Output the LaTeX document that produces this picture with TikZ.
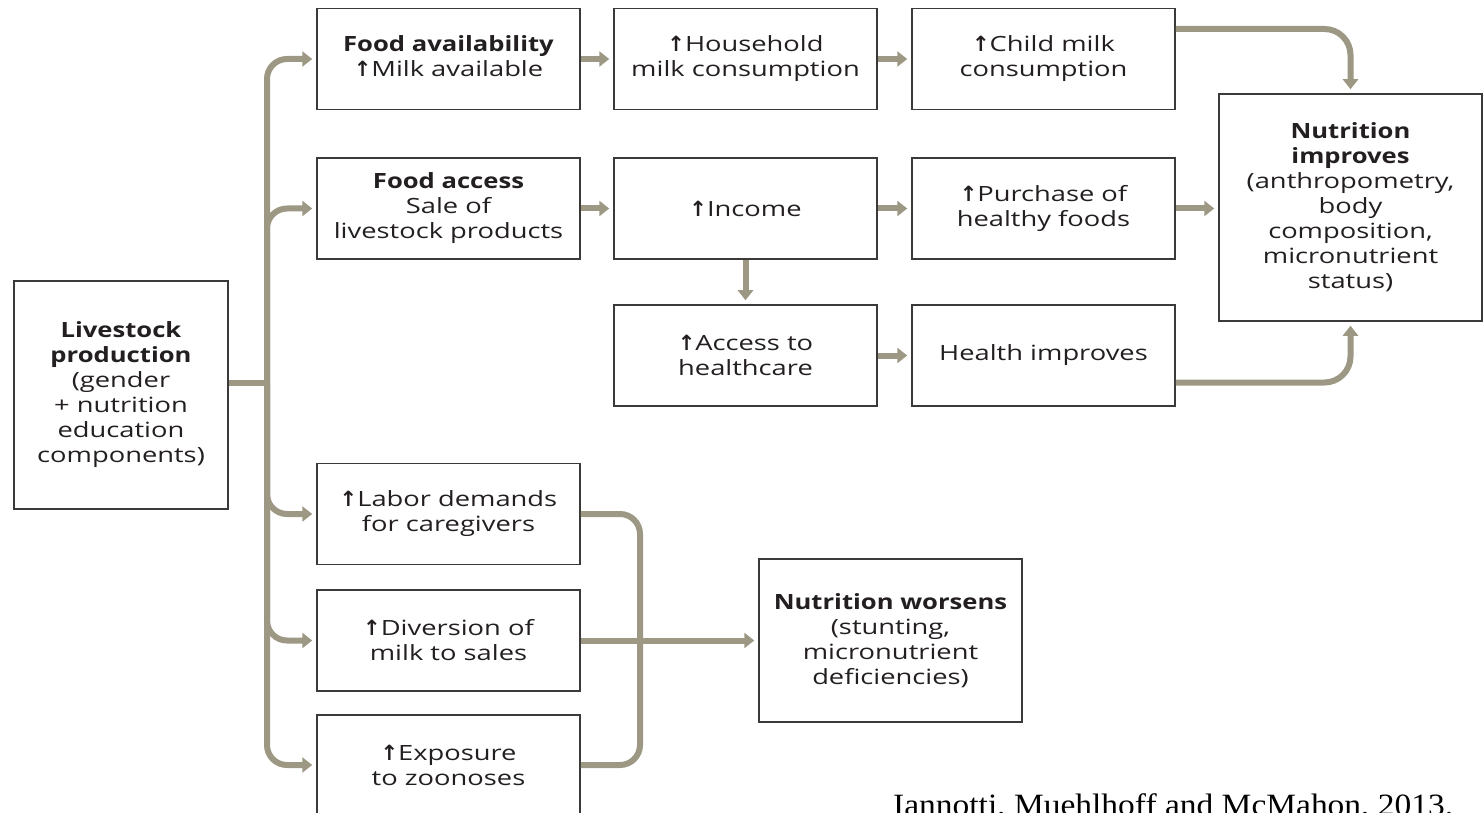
\documentclass[tikz,border=0pt]{standalone}
\usepackage{fontspec}
\setmainfont{Open Sans}[FakeStretch=1.3, BoldFeatures={FakeStretch=1.22}]
\newfontfamily\symfont{DejaVu Sans}
\newfontfamily\citefont{Liberation Serif}[FakeStretch=1.08]
\usetikzlibrary{arrows.meta,calc}
\definecolor{conncol}{RGB}{157,152,131}
\definecolor{boxcol}{RGB}{60,58,56}
\definecolor{txtcol}{RGB}{35,31,32}
\newcommand\upar{{\symfont\bfseries ↑}}
\begin{document}
\begin{tikzpicture}[x=1pt,y=-1pt,
  box/.style={draw=boxcol, line width=1.5pt, fill=white, align=center,
    inner sep=0pt, minimum width=263pt, minimum height=101pt,
    text=txtcol, font=\fontsize{21}{25}\selectfont},
  conn/.style={draw=conncol, line width=6pt},
  arr/.style={conn, -{Triangle[length=10pt,width=15pt]}, shorten >=4pt},
  branch/.style={arr, rounded corners=20pt}]
\useasboundingbox (0,0) rectangle (1484,813);
\clip (0,0) rectangle (1484,813);
\fill[white] (0,0) rectangle (1484,813);

% source box
\node[box, minimum width=214pt, minimum height=228pt] (live) at (121,395)
  {\textbf{Livestock}\\\textbf{production}\\(gender\\+ nutrition\\education\\components)};

% first column
\node[box] (avail) at (448.5,59) {\textbf{Food availability}\\\upar Milk available\vphantom{g}};
\node[box] (access) at (448.5,208.5) {\textbf{Food access}\\Sale of\\livestock products};
\node[box] (labor) at (448.5,514) {\upar Labor demands\\for caregivers};
\node[box] (divert) at (448.5,640.5) {\upar Diversion of\\milk to sales};
\node[box, minimum height=100pt] (expo) at (448.5,765) {\upar Exposure\\to zoonoses};

% second column
\node[box] (house) at (745.5,59) {\upar Household\\milk consumption};
\node[box] (income) at (745.5,208.5) {\upar Income};
\node[box] (care) at (745.5,355.5) {\upar Access to\\healthcare};

% third column
\node[box] (child) at (1043.5,59) {\upar Child milk\\consumption};
\node[box] (purch) at (1043.5,208.5) {\upar Purchase of\\healthy foods};
\node[box] (health) at (1043.5,355.5) {Health improves};

% outcomes
\node[box, minimum height=227pt] (better) at (1350.5,207.5)
  {\textbf{Nutrition}\\\textbf{improves}\\(anthropometry,\\body\\composition,\\micronutrient\\status)};
\node[box, minimum height=163pt] (worse) at (890.5,640.5)
  {\textbf{Nutrition worsens}\\(stunting,\\micronutrient\\deficiencies)};

% trunk from the source box and its branches
\coordinate (hub) at (267,383);
\draw[conn] ([yshift=12pt]live.east) -- (hub);
\foreach \t in {avail,access,labor,divert,expo}
  \draw[branch] (hub) |- (\t.west);

% links between the columns
\draw[arr] (avail.east) -- (house.west);
\draw[arr] (house.east) -- (child.west);
\draw[arr] (access.east) -- (income.west);
\draw[arr] (income.east) -- (purch.west);
\draw[arr] (care.east) -- (health.west);
\draw[arr] (income.south) -- (care.north);
\draw[arr] (purch.east) -- (better.west |- purch.east);

% into the nutrition outcome
\draw[arr, rounded corners=26pt] ([yshift=30pt]child.east) -| (better.north);
\draw[arr, rounded corners=26pt] ([yshift=-27pt]health.east) -| (better.south);

% negative pathways
\coordinate (join) at (640,640.5);
\draw[conn, rounded corners=20pt] (labor.east) -| (join) |- (expo.east);
\draw[arr] (divert.east) -- (worse.west);

% source
\node[anchor=base west, inner sep=0pt, text=black,
  font=\citefont\fontsize{31}{31}\selectfont] (cite) at (893,815)
  {Iannotti, Muehlhoff and McMahon, 2013.};
\end{tikzpicture}
\end{document}
